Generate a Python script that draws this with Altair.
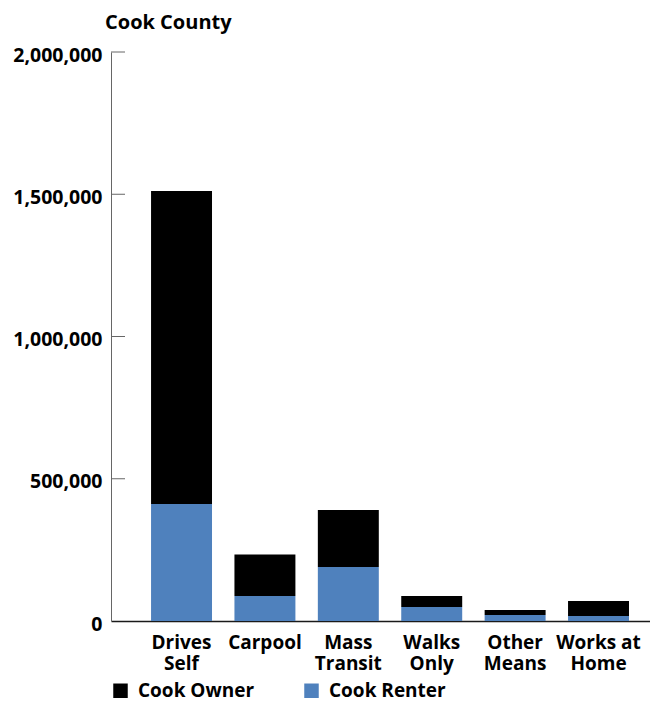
import altair as alt
import pandas as pd

# ---- data ----
modes = ["Drives Self", "Carpool", "Mass Transit", "Walks Only", "Other Means", "Works at Home"]
renter = [411000, 88000, 190000, 49000, 21000, 17600]
owner = [1100000, 146000, 200000, 39000, 17700, 52400]
series = ["Cook Owner", "Cook Renter"]
colors = ["#000000", "#4F81BD"]
y_ticks = [0, 500000, 1000000, 1500000, 2000000]
inner_ticks = [500000, 1000000, 1500000, 2000000]

rows = []
for m, o, r in zip(modes, owner, renter):
    rows.append({"mode": m, "series": "Cook Renter", "value": r, "ord": 0})
    rows.append({"mode": m, "series": "Cook Owner", "value": o, "ord": 1})
df = pd.DataFrame(rows)
tick_df = pd.DataFrame({"v": inner_ticks})

FONT = "Open Sans"

y_scale = alt.Scale(domain=[0, 2000000], nice=False, zero=True)

bars = alt.Chart(df).mark_bar().encode(
    x=alt.X(
        "mode:N",
        sort=modes,
        scale=alt.Scale(paddingInner=0.269, paddingOuter=0.366, align=0.656),
        axis=alt.Axis(
            title=None,
            labelAngle=0,
            labelExpr="datum.label == 'Works at Home' ? ['Works at', 'Home'] : split(datum.label, ' ')",
            labelFont=FONT,
            labelFontSize=19,
            labelFontWeight="bold",
            labelColor="#000000",
            labelLineHeight=21,
            labelPadding=12,
            labelBaseline="top",
            ticks=False,
            domainColor="#1a1a1a",
            domainWidth=1.5,
        ),
    ),
    y=alt.Y(
        "value:Q",
        stack="zero",
        scale=y_scale,
        axis=alt.Axis(
            title=None,
            values=y_ticks,
            format=",.0f",
            grid=False,
            ticks=False,
            labelFont=FONT,
            labelFontSize=19.5,
            labelFontWeight="bold",
            labelColor="#000000",
            labelPadding=9,
            labelOffset=3,
            domainColor="#666666",
            domainWidth=1,
        ),
    ),
    color=alt.Color(
        "series:N",
        scale=alt.Scale(domain=series, range=colors),
        legend=alt.Legend(
            title=None,
            orient="none",
            legendX=0,
            legendY=629,
            direction="horizontal",
            symbolType="square",
            symbolSize=210,
            symbolStrokeWidth=0,
            symbolOpacity=1,
            labelFont=FONT,
            labelFontSize=19,
            labelFontWeight="bold",
            labelColor="#000000",
            labelOffset=8,
            columnPadding=47,
        ),
    ),
    order=alt.Order("ord:Q"),
)

ticks = alt.Chart(tick_df).mark_rule(color="#666666", strokeWidth=1).encode(
    y=alt.Y("v:Q", scale=y_scale),
    x=alt.value(0),
    x2=alt.value(14),
)

chart = (
    alt.layer(bars, ticks)
    .properties(
        width=539,
        height=569,
        padding={"left": 103, "top": 44, "right": 0, "bottom": 82},
        autosize=alt.AutoSizeParams(type="none"),
        title=alt.Title(
            "Cook County",
            anchor="start",
            frame="group",
            font=FONT,
            fontSize=20,
            fontWeight="bold",
            color="#000000",
            dx=-6,
            dy=20,
            baseline="alphabetic",
            offset=16,
        ),
    )
    .configure_view(stroke=None)
)

chart.save("out.html", embed_options={"renderer": "svg", "actions": False})
